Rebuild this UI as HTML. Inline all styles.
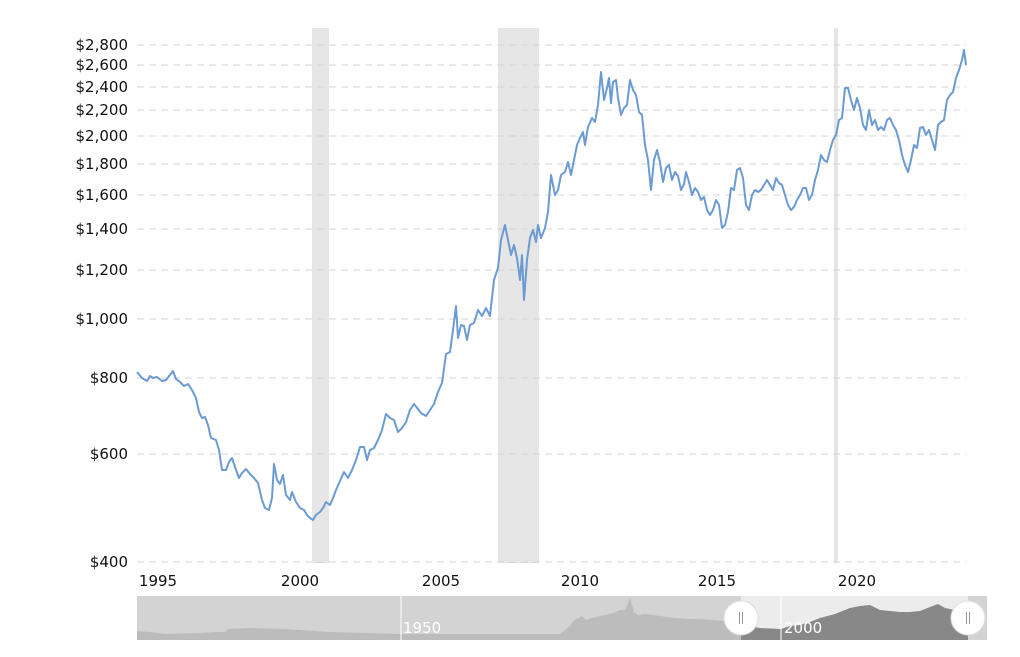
<!DOCTYPE html>
<html><head><meta charset="utf-8"><style>
body{margin:0;background:#fff;width:1020px;height:652px;overflow:hidden}
text{font-family:"DejaVu Sans","Liberation Sans",sans-serif}
</style></head><body>
<svg width="1020" height="652" xmlns="http://www.w3.org/2000/svg">
<rect x="312" y="28" width="17" height="535" fill="#e6e6e6"/>
<rect x="498" y="28" width="41" height="535" fill="#e6e6e6"/>
<rect x="834" y="28" width="4" height="535" fill="#e6e6e6"/>
<g stroke="#d4d4d4" stroke-dasharray="7,5" stroke-width="1">
<line x1="137" x2="966" y1="45" y2="45"/><line x1="137" x2="966" y1="65" y2="65"/>
<line x1="137" x2="966" y1="87" y2="87"/><line x1="137" x2="966" y1="110" y2="110"/>
<line x1="137" x2="966" y1="136" y2="136"/><line x1="137" x2="966" y1="164" y2="164"/>
<line x1="137" x2="966" y1="195" y2="195"/><line x1="137" x2="966" y1="229" y2="229"/>
<line x1="137" x2="966" y1="270" y2="270"/><line x1="137" x2="966" y1="319" y2="319"/>
<line x1="137" x2="966" y1="378" y2="378"/><line x1="137" x2="966" y1="454" y2="454"/>
<line x1="137" x2="966" y1="562" y2="562"/>
</g>
<g font-size="15" fill="#111" text-anchor="end">
<text x="128" y="50">$2,800</text><text x="128" y="70">$2,600</text><text x="128" y="92">$2,400</text>
<text x="128" y="115">$2,200</text><text x="128" y="141">$2,000</text><text x="128" y="169">$1,800</text>
<text x="128" y="200">$1,600</text><text x="128" y="234">$1,400</text><text x="128" y="275">$1,200</text>
<text x="128" y="324">$1,000</text><text x="128" y="383">$800</text><text x="128" y="459">$600</text>
<text x="128" y="567">$400</text>
</g>
<g font-size="15" fill="#111" text-anchor="middle">
<text x="158" y="586">1995</text><text x="300" y="586">2000</text><text x="441" y="586">2005</text>
<text x="580" y="586">2010</text><text x="717" y="586">2015</text><text x="857" y="586">2020</text>
</g>
<polyline fill="none" stroke="#6b9bd2" stroke-width="2" stroke-linejoin="round" points="137,372 142,378 147,381 150,376 153,378 157,377 162,381 166,380 170,375 173,371 176,379 180,382 184,386 188,384 192,390 196,398 199,412 202,418 205,417 208,425 211,438 216,440 219,450 222,470 226,470 229,462 232,458 235,467 239,478 242,473 246,469 250,474 254,478 258,483 262,500 265,508 269,510 272,498 274,464 277,480 280,484 283,475 286,495 290,500 292,492 296,502 300,508 304,510 307,515 310,518 313,520 316,515 320,512 323,508 326,502 330,505 333,498 336,490 340,481 344,472 348,478 352,470 356,460 360,447 364,447 367,460 370,450 374,448 378,440 382,430 386,414 390,418 394,420 398,432 402,428 406,422 410,410 414,404 418,409 421,413 426,416 430,410 434,404 438,392 442,383 446,354 450,352 453,330 456,306 458,338 461,325 464,326 467,340 470,325 474,323 478,310 482,316 486,308 490,316 494,280 498,268 501,240 505,225 508,240 511,255 514,245 517,258 520,280 522,255 524,300 527,260 530,238 533,230 536,242 538,225 541,238 545,228 548,212 551,175 555,195 558,190 561,175 565,172 568,162 571,175 574,160 577,145 580,138 583,132 585,145 588,127 592,118 595,122 598,105 601,72 604,100 607,88 609,78 611,103 613,82 616,80 618,98 621,115 624,108 627,105 630,80 633,90 636,95 639,112 642,115 645,145 648,160 651,190 654,160 657,150 660,162 663,182 666,168 669,165 672,180 675,172 678,176 681,190 684,184 686,172 689,182 692,195 695,188 698,192 701,200 704,197 707,210 710,215 713,210 716,200 719,205 722,228 725,225 728,212 731,188 734,190 737,170 740,168 743,178 746,205 749,210 752,195 755,190 758,192 761,190 764,185 767,180 770,185 773,190 776,178 779,183 782,185 785,195 788,205 791,210 794,207 797,200 800,195 803,188 806,188 809,200 812,195 815,180 818,170 821,155 824,160 827,162 830,150 833,140 836,135 839,120 842,118 845,88 848,88 851,100 854,110 857,98 860,108 863,125 866,130 869,110 872,125 875,120 878,130 881,127 884,130 887,120 890,118 893,125 896,130 899,140 902,155 905,165 908,172 911,160 914,145 917,148 920,128 923,127 926,135 929,130 932,140 935,150 938,125 941,122 944,120 947,100 950,95 953,92 956,78 959,70 962,60 964,50 966,65"/>
<!-- navigator -->
<rect x="137" y="596" width="850" height="44" fill="#d3d3d3"/>
<rect x="741" y="596" width="227" height="44" fill="#ececec"/>
<polygon fill="#bcbcbc" points="137,631 150,632 165,634 200,633 215,632 225,632 228,629 250,628 285,629 300,630 330,632 400,634 500,634 560,634 570,626 574,620 578,618 582,616 586,620 592,618 600,616 610,614 620,610 625,610 628,603 630,598 632,605 634,612 638,615 645,614 660,616 675,618 690,619 700,619 712,620 725,621 741,622 741,640 137,640"/>
<polygon fill="#888" points="741,625 760,628 781,629 790,626 800,625 810,622 820,618 835,614 850,608 860,606 870,605 880,610 890,611 900,612 910,612 920,611 930,607 938,604 945,608 955,610 968,611 968,640 741,640"/>
<line x1="401" y1="596" x2="401" y2="640" stroke="#fff" stroke-width="1"/>
<line x1="781" y1="596" x2="781" y2="640" stroke="#fff" stroke-width="1"/>
<text x="403" y="633" font-size="15" fill="#fff">1950</text>
<text x="784" y="633" font-size="15" fill="#fff">2000</text>
<circle cx="741" cy="618" r="17" fill="#fff" stroke="#ddd"/>
<circle cx="968" cy="618" r="17" fill="#fff" stroke="#ddd"/>
<g stroke="#999" stroke-width="1"><line x1="739.5" y1="612" x2="739.5" y2="624"/><line x1="742.5" y1="612" x2="742.5" y2="624"/>
<line x1="966.5" y1="612" x2="966.5" y2="624"/><line x1="969.5" y1="612" x2="969.5" y2="624"/></g>
</svg>
</body></html>
